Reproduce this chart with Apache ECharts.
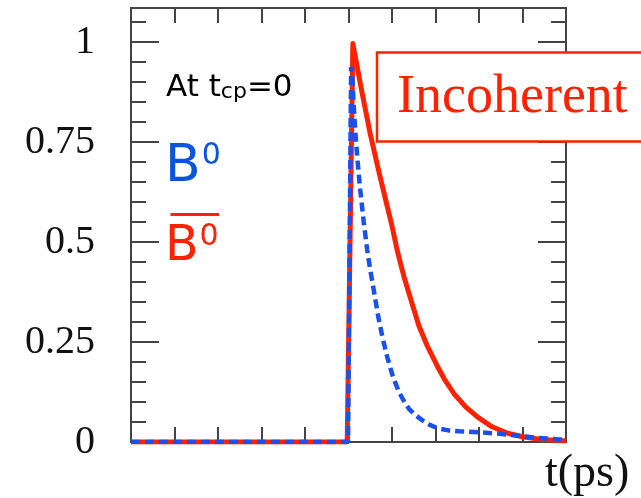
<!DOCTYPE html>
<html>
<head>
<meta charset="utf-8">
<script src="https://cdn.jsdelivr.net/npm/echarts@6/dist/echarts.min.js"></script>
<style>
html,body{margin:0;padding:0;background:#fff;}
#chart{width:641px;height:498px;}
</style>
</head>
<body>
<div id="chart"></div>
<script>
// ---- data ----
const yTickLabels = ['0', '0.25', '0.5', '0.75', '1'];
const redT  = [-5, -0.03, 0.1, 0.3, 0.5, 0.7, 0.85, 1.0, 1.12, 1.27, 1.45, 1.62, 1.8, 2.04, 2.2, 2.43, 2.7, 2.97, 3.3, 3.66, 4.0, 4.4, 4.8, 5];
const redY  = [0, 0, 0.996, 0.88, 0.77, 0.675, 0.607, 0.54, 0.479, 0.415, 0.35, 0.29, 0.243, 0.19, 0.158, 0.12, 0.087, 0.062, 0.038, 0.022, 0.013, 0.007, 0.004, 0.003];
const blueT = [-5, -0.01, 0.06, 0.085, 0.12, 0.16, 0.21, 0.27, 0.35, 0.43, 0.5, 0.55, 0.62, 0.7, 0.78, 0.89, 1.0, 1.08, 1.16, 1.27, 1.39, 1.55, 1.7, 1.88, 2.06, 2.3, 2.54, 3.04, 3.43, 3.81, 4.27, 4.8, 5];
const blueY = [0, 0, 0.9375, 0.92, 0.84, 0.77, 0.70, 0.63, 0.55, 0.48, 0.43, 0.40, 0.354, 0.304, 0.2625, 0.2125, 0.171, 0.147, 0.125, 0.103, 0.083, 0.066, 0.054, 0.042, 0.034, 0.029, 0.027, 0.024, 0.021, 0.017, 0.011, 0.007, 0.006];

const AX = '#444';
const RED = '#ff2200';
const BLUE = '#1a4ff0';
const BLUE_TXT = '#0a55dd';

const chart = echarts.init(document.getElementById('chart'), null, {renderer: 'canvas'});

function xAx(pos) {
  return {
    type: 'value', position: pos, min: -5, max: 5, interval: 1,
    axisLine: {show: true, onZero: false, lineStyle: {color: AX, width: 2}},
    axisTick: {show: true, inside: true, length: 15, lineStyle: {color: AX, width: 2}},
    axisLabel: {show: false}, splitLine: {show: false}
  };
}
function yAx(pos, interval, len, labels) {
  return {
    type: 'value', position: pos, min: 0, max: 1.085, interval: interval,
    axisLine: {show: true, onZero: false, lineStyle: {color: AX, width: 2}},
    axisTick: {show: true, inside: true, length: len, lineStyle: {color: AX, width: 2}},
    axisLabel: labels ? {
      show: true, margin: 36, color: '#111',
      fontFamily: 'Liberation Serif', fontSize: 40,
      formatter: function (v) {
        const s = String(+(+v).toFixed(2));
        return yTickLabels.indexOf(s) >= 0 ? s : '';
      }
    } : {show: false},
    splitLine: {show: false}
  };
}

const option = {
  animation: false,
  backgroundColor: '#fff',
  grid: {left: 131, right: 75, top: 8, bottom: 56, containLabel: false},
  xAxis: [xAx('bottom'), xAx('top')],
  yAxis: [
    yAx('left', 0.25, 28, true),
    yAx('left', 0.05, 15, false),
    yAx('right', 0.25, 28, false),
    yAx('right', 0.05, 15, false)
  ],
  series: [
    {
      type: 'line', name: 'B0bar', showSymbol: false, symbol: 'none', smooth: false,
      xAxisIndex: 0, yAxisIndex: 0, z: 3,
      lineStyle: {color: RED, width: 5, join: 'round'},
      data: redT.map((t, i) => [t, redY[i]])
    },
    {
      type: 'line', name: 'B0', showSymbol: false, symbol: 'none', smooth: false,
      xAxisIndex: 0, yAxisIndex: 0, z: 4,
      lineStyle: {color: BLUE, width: 4.5, type: [9, 5]},
      data: blueT.map((t, i) => [t, blueY[i]])
    }
  ],
  graphic: [
    {
      type: 'rect', z: 100,
      shape: {x: 377, y: 52.5, width: 270, height: 89},
      style: {fill: '#fff', stroke: RED, lineWidth: 2.5}
    },
    {
      type: 'text', z: 101, x: 397, y: 97.5,
      style: {text: 'Incoherent', fill: RED, font: '54px "Liberation Serif"', verticalAlign: 'middle', align: 'left'}
    },
    {
      type: 'text', z: 101, x: 166, y: 72.4,
      style: {
        text: '{a|At t}{s|cp}{a|=0}', verticalAlign: 'top', align: 'left',
        rich: {
          a: {fontFamily: 'DejaVu Sans', fontSize: 31, lineHeight: 31, fill: '#000'},
          s: {fontFamily: 'DejaVu Sans', fontSize: 22, lineHeight: 17, verticalAlign: 'bottom', fill: '#000'}
        }
      }
    },
    {
      type: 'text', z: 101, x: 165, y: 141,
      style: {
        text: '{b|B}{s|0}', verticalAlign: 'top', align: 'left',
        rich: {
          b: {fontFamily: 'DejaVu Sans', fontSize: 52, lineHeight: 52, fill: BLUE_TXT},
          s: {fontFamily: 'DejaVu Sans', fontSize: 30, lineHeight: 41, verticalAlign: 'top', padding: [0, 0, 0, 1], fill: BLUE_TXT}
        }
      }
    },
    {
      type: 'text', z: 101, x: 165, y: 222.6,
      style: {
        text: '{b|B}{s|0}', verticalAlign: 'top', align: 'left',
        rich: {
          b: {fontFamily: 'DejaVu Sans', fontSize: 49, lineHeight: 49, fill: RED},
          s: {fontFamily: 'DejaVu Sans', fontSize: 30, lineHeight: 34, verticalAlign: 'top', padding: [0, 0, 0, 1], fill: RED}
        }
      }
    },
    {
      type: 'line', z: 101,
      shape: {x1: 170.5, y1: 214.5, x2: 219, y2: 214.5},
      style: {stroke: RED, lineWidth: 3}
    },
    {
      type: 'text', z: 101, x: 545, y: 474,
      style: {text: 't(ps)', fill: '#111', font: '46px "Liberation Serif"', verticalAlign: 'middle', align: 'left'}
    }
  ]
};
chart.setOption(option);
</script>
</body>
</html>
